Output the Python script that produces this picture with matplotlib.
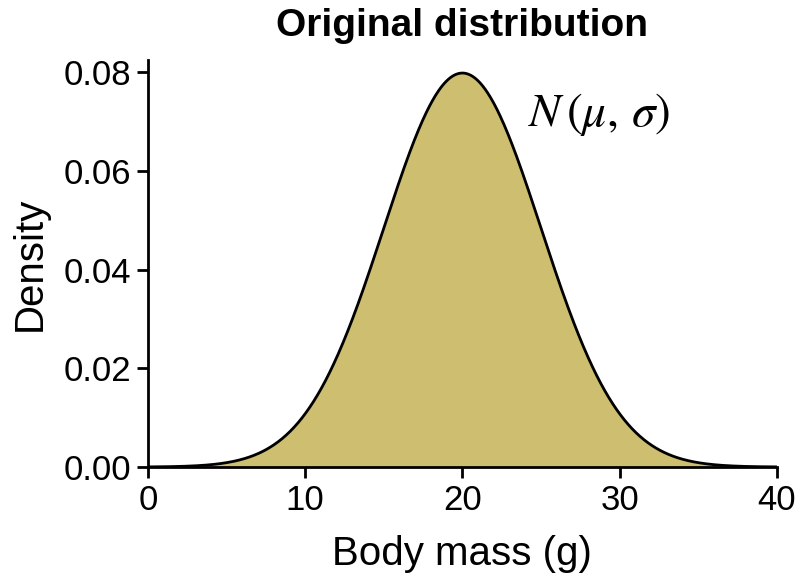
import numpy as np
import matplotlib
matplotlib.use("Agg")
import matplotlib.pyplot as plt

# distribution parameters (peak ~0.0798 at 20 g)
mu = 20.0
sigma = 5.0
x_range = [0, 40]
x_ticks = [0, 10, 20, 30, 40]
y_ticks = [0.00, 0.02, 0.04, 0.06, 0.08]
y_labels = ["0.00", "0.02", "0.04", "0.06", "0.08"]

plt.rcParams['font.family'] = ['Liberation Sans', 'DejaVu Sans']
plt.rcParams['mathtext.fontset'] = 'stix'

x = np.linspace(x_range[0], x_range[1], 801)
dens = np.exp(-0.5 * ((x - mu) / sigma) ** 2) / (sigma * np.sqrt(2 * np.pi))

fig = plt.figure(figsize=(8, 5.77), dpi=100)
ax = fig.add_axes([0.185, 0.1906, 0.786, 0.7054])

ax.fill_between(x, 0, dens, color='#CDBE70', lw=0)
ax.plot(x, dens, color='black', lw=2)

ax.set_xlim(x_range)
ax.set_ylim(0, 0.08243)
ax.set_xticks(x_ticks)
ax.set_yticks(y_ticks)
ax.set_yticklabels(y_labels)

for s in ['top', 'right']:
    ax.spines[s].set_visible(False)
for s in ['left', 'bottom']:
    ax.spines[s].set_linewidth(2)
ax.tick_params(axis='both', length=8, width=2, labelsize=25, pad=4, colors='black')

ax.set_xlabel('Body mass (g)', fontsize=29, labelpad=13)
ax.set_ylabel('Density', fontsize=29, labelpad=11)
ax.set_title('Original distribution', fontsize=28, fontweight='bold', pad=17)

ax.text(24.2, 0.0713, r'$N\,(\mu,\,\sigma)$', fontsize=34, va='center', ha='left')

fig.savefig('out.png', dpi=100)
